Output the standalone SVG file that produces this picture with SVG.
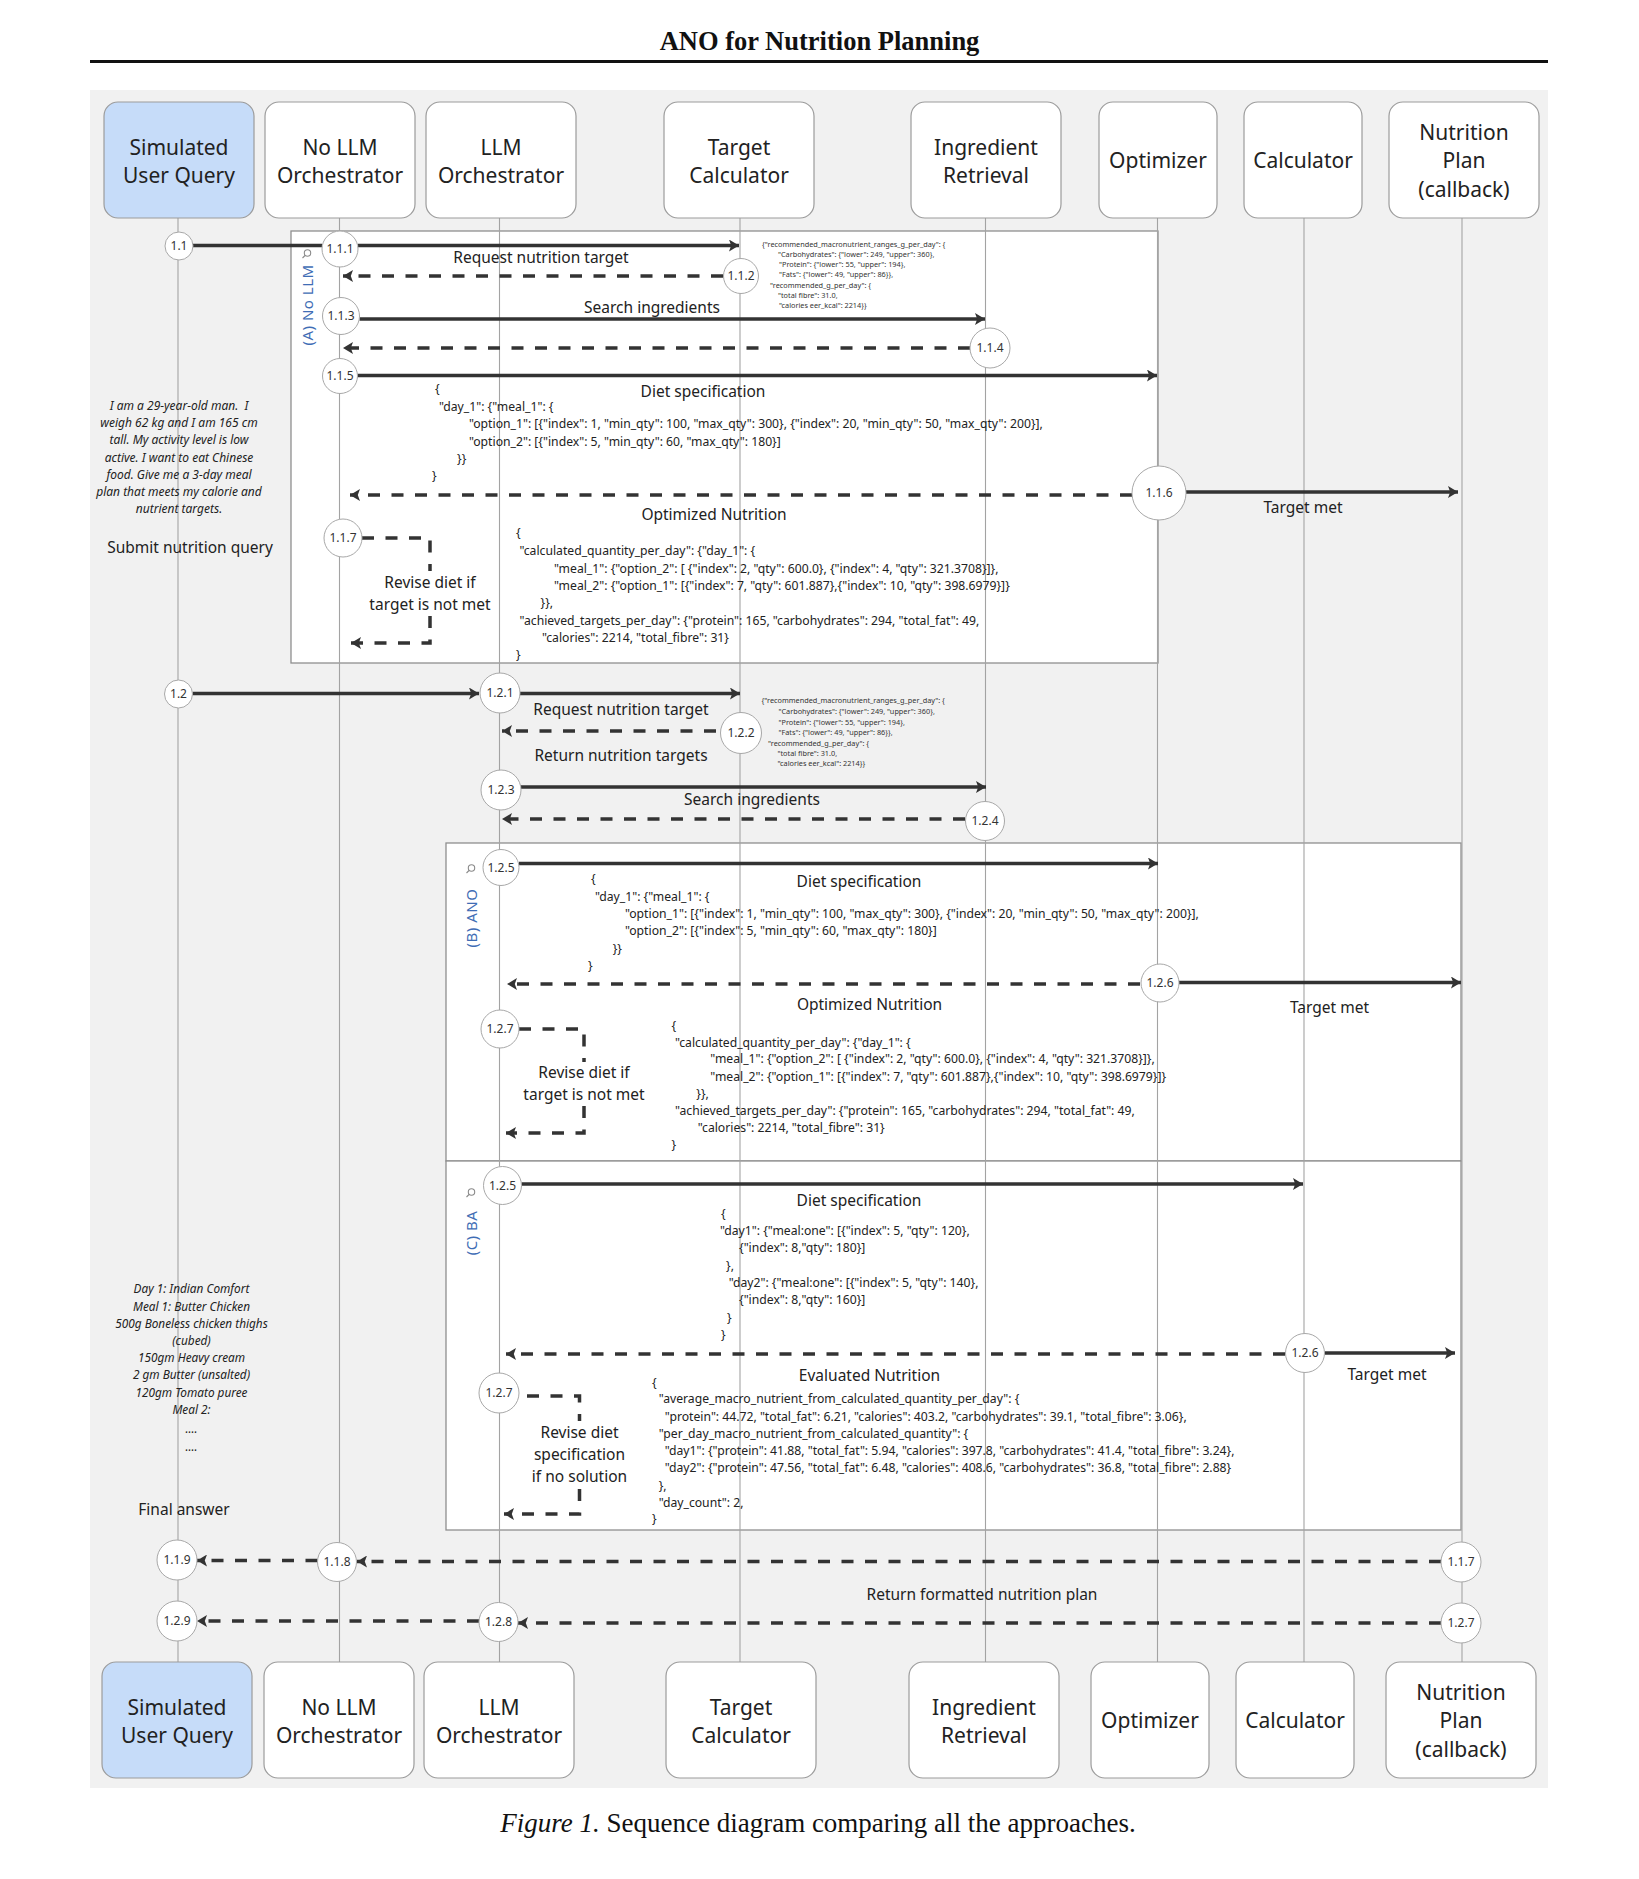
<svg xmlns="http://www.w3.org/2000/svg" width="1639" height="1879" viewBox="0 0 1639 1879">
<style>
.pb{fill:#fff;stroke:#9c9c9c;stroke-width:1.2}
.pu{fill:#c6dcf9}
.pt{font-family:"Noto Sans","Open Sans",sans-serif;font-size:21px;fill:#222;text-anchor:middle}
.life{stroke:#a3a3a3;stroke-width:1.1;fill:none}
.frame{fill:#fff;stroke:#8f8f8f;stroke-width:1.3}
.fl{font-family:"Noto Sans","Open Sans",sans-serif;font-size:15px;fill:#3f6db5;text-anchor:middle;letter-spacing:0.5px}
.ic{fill:none;stroke:#8a8a8a;stroke-width:1.1}
.m{stroke:#333;stroke-width:3.5;fill:none}
.d{stroke:#333;stroke-width:3.5;fill:none;stroke-dasharray:12 11.5}
.nc{fill:#fff;stroke:#a8a8a8;stroke-width:1}
.nt{font-family:"Noto Sans","Open Sans",sans-serif;font-size:12px;fill:#333;text-anchor:middle}
.lb{font-family:"Noto Sans","Open Sans",sans-serif;font-size:15.5px;fill:#222;text-anchor:middle}
.js{font-family:"Noto Sans","Open Sans",sans-serif;font-size:12.2px;fill:#222}
.tj{font-family:"Noto Sans","Open Sans",sans-serif;font-size:7.3px;fill:#333}
.it{font-family:"Noto Sans","Open Sans",sans-serif;font-size:12px;font-style:italic;fill:#222;text-anchor:middle}
.it2{font-family:"Noto Sans","Open Sans",sans-serif;font-size:11.8px;font-style:italic;fill:#222;text-anchor:middle}
.ser{font-family:"Liberation Serif","Times New Roman",serif;fill:#111;text-anchor:middle}
</style>
<defs>
<marker id="ah" viewBox="0 0 10 12" refX="10" refY="6" markerWidth="10" markerHeight="12" markerUnits="userSpaceOnUse" orient="auto">
<path d="M0,0 L10,6 L0,12 L2.2,6 z" fill="#333"/>
</marker>
</defs>

<text class="ser" x="819.5" y="50" font-size="26.5" font-weight="bold">ANO for Nutrition Planning</text>
<line x1="90" y1="61.5" x2="1548" y2="61.5" stroke="#111" stroke-width="3"/>

<rect x="90" y="90" width="1458" height="1698" fill="#f1f1f1"/>

<g id="frames">
<rect id="frame-a" class="frame" x="291" y="231" width="867" height="432"/>
<rect id="frame-b" class="frame" x="446" y="843" width="1015" height="318"/>
<rect id="frame-c" class="frame" x="446" y="1161" width="1015" height="369"/>
<text class="fl" transform="translate(313,305) rotate(-90)">(A) No LLM</text>
<text class="fl" transform="translate(477,918) rotate(-90)">(B) ANO</text>
<text class="fl" transform="translate(477,1233) rotate(-90)">(C) BA</text>
<g class="ic"><circle cx="307.5" cy="253" r="3.2"/><line x1="305" y1="255.5" x2="302.5" y2="258"/></g>
<g class="ic"><circle cx="471.5" cy="868" r="3.2"/><line x1="469" y1="870.5" x2="466.5" y2="873"/></g>
<g class="ic"><circle cx="471.5" cy="1192" r="3.2"/><line x1="469" y1="1194.5" x2="466.5" y2="1197"/></g>
</g>

<g id="participants">
<g id="p-user">
<line class="life" x1="178" y1="218" x2="178" y2="1662"/>
<rect class="pb pu" x="104" y="102" width="150" height="116" rx="14"/>
<text class="pt" x="179" y="154.5">Simulated</text><text class="pt" x="179" y="183">User Query</text>
<rect class="pb pu" x="102" y="1662" width="150" height="116" rx="14"/>
<text class="pt" x="177" y="1714.5">Simulated</text><text class="pt" x="177" y="1743">User Query</text>
</g>
<g id="p-nollm">
<line class="life" x1="339.5" y1="218" x2="339.5" y2="1662"/>
<rect class="pb" x="265" y="102" width="150" height="116" rx="14"/>
<text class="pt" x="340" y="154.5">No LLM</text><text class="pt" x="340" y="183">Orchestrator</text>
<rect class="pb" x="264" y="1662" width="150" height="116" rx="14"/>
<text class="pt" x="339" y="1714.5">No LLM</text><text class="pt" x="339" y="1743">Orchestrator</text>
</g>
<g id="p-llm">
<line class="life" x1="499.5" y1="218" x2="499.5" y2="1662"/>
<rect class="pb" x="426" y="102" width="150" height="116" rx="14"/>
<text class="pt" x="501" y="154.5">LLM</text><text class="pt" x="501" y="183">Orchestrator</text>
<rect class="pb" x="424" y="1662" width="150" height="116" rx="14"/>
<text class="pt" x="499" y="1714.5">LLM</text><text class="pt" x="499" y="1743">Orchestrator</text>
</g>
<g id="p-target">
<line class="life" x1="740" y1="218" x2="740" y2="1662"/>
<rect class="pb" x="664" y="102" width="150" height="116" rx="14"/>
<text class="pt" x="739" y="154.5">Target</text><text class="pt" x="739" y="183">Calculator</text>
<rect class="pb" x="666" y="1662" width="150" height="116" rx="14"/>
<text class="pt" x="741" y="1714.5">Target</text><text class="pt" x="741" y="1743">Calculator</text>
</g>
<g id="p-ingr">
<line class="life" x1="985.5" y1="218" x2="985.5" y2="1662"/>
<rect class="pb" x="911" y="102" width="150" height="116" rx="14"/>
<text class="pt" x="986" y="154.5">Ingredient</text><text class="pt" x="986" y="183">Retrieval</text>
<rect class="pb" x="909" y="1662" width="150" height="116" rx="14"/>
<text class="pt" x="984" y="1714.5">Ingredient</text><text class="pt" x="984" y="1743">Retrieval</text>
</g>
<g id="p-opt">
<line class="life" x1="1157.5" y1="218" x2="1157.5" y2="1662"/>
<rect class="pb" x="1099" y="102" width="118" height="116" rx="14"/>
<text class="pt" x="1158" y="168">Optimizer</text>
<rect class="pb" x="1091" y="1662" width="118" height="116" rx="14"/>
<text class="pt" x="1150" y="1728">Optimizer</text>
</g>
<g id="p-calc">
<line class="life" x1="1304" y1="218" x2="1304" y2="1662"/>
<rect class="pb" x="1244" y="102" width="118" height="116" rx="14"/>
<text class="pt" x="1303" y="168">Calculator</text>
<rect class="pb" x="1236" y="1662" width="118" height="116" rx="14"/>
<text class="pt" x="1295" y="1728">Calculator</text>
</g>
<g id="p-plan">
<line class="life" x1="1462" y1="218" x2="1462" y2="1662"/>
<rect class="pb" x="1389" y="102" width="150" height="116" rx="14"/>
<text class="pt" x="1464" y="139.5">Nutrition</text><text class="pt" x="1464" y="168">Plan</text><text class="pt" x="1464" y="196.5">(callback)</text>
<rect class="pb" x="1386" y="1662" width="150" height="116" rx="14"/>
<text class="pt" x="1461" y="1699.5">Nutrition</text><text class="pt" x="1461" y="1728">Plan</text><text class="pt" x="1461" y="1756.5">(callback)</text>
</g>
</g>

<g id="connectors">
<line class="m" x1="193" y1="245.5" x2="322" y2="245.5"/>
<line class="m" x1="358" y1="245.5" x2="739" y2="245.5" marker-end="url(#ah)"/>
<line class="d" x1="723" y1="276" x2="343" y2="276" marker-end="url(#ah)"/>
<line class="m" x1="359.5" y1="319" x2="985" y2="319" marker-end="url(#ah)"/>
<line class="d" x1="970" y1="348" x2="343" y2="348" marker-end="url(#ah)"/>
<line class="m" x1="357.5" y1="375.5" x2="1157" y2="375.5" marker-end="url(#ah)"/>
<line class="d" x1="1132" y1="495" x2="350" y2="495" marker-end="url(#ah)"/>
<line class="m" x1="1186" y1="492" x2="1458" y2="492" marker-end="url(#ah)"/>
<path class="d" d="M362,538 H430 V571 M430,616 V643 H351" marker-end="url(#ah)"/>

<line class="m" x1="192.5" y1="693.5" x2="479" y2="693.5" marker-end="url(#ah)"/>
<line class="m" x1="520" y1="693.5" x2="740" y2="693.5" marker-end="url(#ah)"/>
<line class="d" x1="716" y1="731" x2="502" y2="731" marker-end="url(#ah)"/>
<line class="m" x1="521" y1="787" x2="986" y2="787" marker-end="url(#ah)"/>
<line class="d" x1="965" y1="819" x2="502" y2="819" marker-end="url(#ah)"/>

<line class="m" x1="519" y1="863.5" x2="1158" y2="863.5" marker-end="url(#ah)"/>
<line class="d" x1="1140" y1="984" x2="507" y2="984" marker-end="url(#ah)"/>
<line class="m" x1="1179" y1="982.5" x2="1461" y2="982.5" marker-end="url(#ah)"/>
<path class="d" d="M519,1029 H584 V1062 M584,1106 V1133 H506" marker-end="url(#ah)"/>

<line class="m" x1="521.5" y1="1184" x2="1303" y2="1184" marker-end="url(#ah)"/>
<line class="d" x1="1285" y1="1354" x2="506" y2="1354" marker-end="url(#ah)"/>
<line class="m" x1="1325" y1="1353" x2="1455" y2="1353" marker-end="url(#ah)"/>
<path class="d" d="M527,1396 H579.5 V1421 M579.5,1489 V1514 H504" marker-end="url(#ah)"/>

<line class="d" x1="1441" y1="1561.5" x2="357" y2="1561.5" marker-end="url(#ah)"/>
<line class="d" x1="317.5" y1="1560.5" x2="197" y2="1560.5" marker-end="url(#ah)"/>
<line class="d" x1="1441" y1="1623" x2="518" y2="1623" marker-end="url(#ah)"/>
<line class="d" x1="479" y1="1621" x2="197" y2="1621" marker-end="url(#ah)"/>
</g>

<g id="steps">
<g id="s-1-1"><circle class="nc" cx="179" cy="246" r="14"/><text class="nt" x="179" y="250">1.1</text></g>
<g id="s-1-1-1"><circle class="nc" cx="340" cy="249" r="18"/><text class="nt" x="340" y="253">1.1.1</text></g>
<g id="s-1-1-2"><circle class="nc" cx="741" cy="276" r="17.5"/><text class="nt" x="741" y="280">1.1.2</text></g>
<g id="s-1-1-3"><circle class="nc" cx="341" cy="316" r="18.5"/><text class="nt" x="341" y="320">1.1.3</text></g>
<g id="s-1-1-4"><circle class="nc" cx="990" cy="348" r="20"/><text class="nt" x="990" y="352">1.1.4</text></g>
<g id="s-1-1-5"><circle class="nc" cx="340" cy="376" r="17.5"/><text class="nt" x="340" y="380">1.1.5</text></g>
<g id="s-1-1-6"><circle class="nc" cx="1159" cy="493" r="27"/><text class="nt" x="1159" y="497">1.1.6</text></g>
<g id="s-1-1-7"><circle class="nc" cx="343" cy="538" r="19"/><text class="nt" x="343" y="542">1.1.7</text></g>
<g id="s-1-2"><circle class="nc" cx="178.5" cy="694" r="14"/><text class="nt" x="178.5" y="698">1.2</text></g>
<g id="s-1-2-1"><circle class="nc" cx="500" cy="693" r="20"/><text class="nt" x="500" y="697">1.2.1</text></g>
<g id="s-1-2-2"><circle class="nc" cx="741" cy="733" r="20.5"/><text class="nt" x="741" y="737">1.2.2</text></g>
<g id="s-1-2-3"><circle class="nc" cx="501" cy="790" r="20"/><text class="nt" x="501" y="794">1.2.3</text></g>
<g id="s-1-2-4"><circle class="nc" cx="985" cy="821" r="19.5"/><text class="nt" x="985" y="825">1.2.4</text></g>
<g id="s-b-1-2-5"><circle class="nc" cx="501" cy="867.5" r="18"/><text class="nt" x="501" y="871.5">1.2.5</text></g>
<g id="s-b-1-2-6"><circle class="nc" cx="1160" cy="983" r="19"/><text class="nt" x="1160" y="987">1.2.6</text></g>
<g id="s-b-1-2-7"><circle class="nc" cx="500" cy="1029" r="19"/><text class="nt" x="500" y="1033">1.2.7</text></g>
<g id="s-c-1-2-5"><circle class="nc" cx="502.5" cy="1185.5" r="19"/><text class="nt" x="502.5" y="1189.5">1.2.5</text></g>
<g id="s-c-1-2-6"><circle class="nc" cx="1305" cy="1353" r="19.5"/><text class="nt" x="1305" y="1357">1.2.6</text></g>
<g id="s-c-1-2-7"><circle class="nc" cx="499" cy="1393" r="20"/><text class="nt" x="499" y="1397">1.2.7</text></g>
<g id="s-r-1-1-7"><circle class="nc" cx="1461" cy="1562" r="20"/><text class="nt" x="1461" y="1566">1.1.7</text></g>
<g id="s-r-1-2-7"><circle class="nc" cx="1461" cy="1623" r="20"/><text class="nt" x="1461" y="1627">1.2.7</text></g>
<g id="s-1-1-8"><circle class="nc" cx="337" cy="1562" r="19.5"/><text class="nt" x="337" y="1566">1.1.8</text></g>
<g id="s-1-1-9"><circle class="nc" cx="177" cy="1560" r="20"/><text class="nt" x="177" y="1564">1.1.9</text></g>
<g id="s-1-2-8"><circle class="nc" cx="498.5" cy="1622" r="19.5"/><text class="nt" x="498.5" y="1626">1.2.8</text></g>
<g id="s-1-2-9"><circle class="nc" cx="177" cy="1621" r="20"/><text class="nt" x="177" y="1625">1.2.9</text></g>
</g>

<g id="labels">
<text class="lb" x="541" y="263">Request nutrition target</text>
<text class="lb" x="652" y="313">Search ingredients</text>
<text class="lb" x="703" y="397">Diet specification</text>
<text class="lb" x="714" y="520">Optimized Nutrition</text>
<text class="lb" x="1303" y="513">Target met</text>
<text class="lb" x="430" y="588">Revise diet if</text>
<text class="lb" x="430" y="610">target is not met</text>
<text class="lb" x="190" y="553">Submit nutrition query</text>
<text class="lb" x="621" y="715">Request nutrition target</text>
<text class="lb" x="621" y="760.5">Return nutrition targets</text>
<text class="lb" x="752" y="805">Search ingredients</text>
<text class="lb" x="859" y="886.5">Diet specification</text>
<text class="lb" x="869.5" y="1010">Optimized Nutrition</text>
<text class="lb" x="1329.5" y="1013">Target met</text>
<text class="lb" x="584" y="1078">Revise diet if</text>
<text class="lb" x="584" y="1100">target is not met</text>
<text class="lb" x="859" y="1205.5">Diet specification</text>
<text class="lb" x="869.5" y="1380.5">Evaluated Nutrition</text>
<text class="lb" x="1387" y="1380">Target met</text>
<text class="lb" x="579.5" y="1438">Revise diet</text>
<text class="lb" x="579.5" y="1460">specification</text>
<text class="lb" x="579.5" y="1481.5">if no solution</text>
<text class="lb" x="184" y="1515">Final answer</text>
<text class="lb" x="982" y="1600">Return formatted nutrition plan</text>
</g>

<g id="user-query">
<text class="it" x="179" y="410">I am a 29-year-old man.&#160; I</text>
<text class="it" x="179" y="427">weigh 62 kg and I am 165 cm</text>
<text class="it" x="179" y="444">tall. My activity level is low</text>
<text class="it" x="179" y="461.5">active. I want to eat Chinese</text>
<text class="it" x="179" y="479">food. Give me a 3-day meal</text>
<text class="it" x="179" y="496">plan that meets my calorie and</text>
<text class="it" x="179" y="513">nutrient targets.</text>
</g>

<g id="final-answer-text">
<text class="it2" x="191.5" y="1293">Day 1: Indian Comfort</text>
<text class="it2" x="191.5" y="1310.5">Meal 1: Butter Chicken</text>
<text class="it2" x="191.5" y="1327.5">500g Boneless chicken thighs</text>
<text class="it2" x="191.5" y="1345">(cubed)</text>
<text class="it2" x="191.5" y="1361.5">150gm Heavy cream</text>
<text class="it2" x="191.5" y="1379">2 gm Butter (unsalted)</text>
<text class="it2" x="191.5" y="1396.5">120gm Tomato puree</text>
<text class="it2" x="191.5" y="1414">Meal 2:</text>
<text class="it2" x="191.5" y="1433" font-size="8">....</text>
<text class="it2" x="191.5" y="1450.5" font-size="8">....</text>
</g>

<g id="json-targets-a" class="tj">
<text x="762" y="246.5">{"recommended_macronutrient_ranges_g_per_day": {</text>
<text x="778" y="256.7">"Carbohydrates": {"lower": 249, "upper": 360},</text>
<text x="779" y="267">"Protein": {"lower": 55, "upper": 194},</text>
<text x="779" y="277.3">"Fats": {"lower": 49, "upper": 86}},</text>
<text x="770" y="287.7">"recommended_g_per_day": {</text>
<text x="778" y="297.7">"total fibre": 31.0,</text>
<text x="779" y="307.7">"calories eer_kcal": 2214}}</text>
</g>
<g id="json-targets-b" class="tj">
<text x="761.5" y="703.3">{"recommended_macronutrient_ranges_g_per_day": {</text>
<text x="778.5" y="714.3">"Carbohydrates": {"lower": 249, "upper": 360},</text>
<text x="778.5" y="724.5">"Protein": {"lower": 55, "upper": 194},</text>
<text x="778.5" y="735">"Fats": {"lower": 49, "upper": 86}},</text>
<text x="768" y="745.7">"recommended_g_per_day": {</text>
<text x="777.5" y="755.7">"total fibre": 31.0,</text>
<text x="777.5" y="765.7">"calories eer_kcal": 2214}}</text>
</g>

<g id="json-diet-a" class="js">
<text x="435" y="393">{</text>
<text x="439" y="411">"day_1": {"meal_1": {</text>
<text x="469" y="428">"option_1": [{"index": 1, "min_qty": 100, "max_qty": 300}, {"index": 20, "min_qty": 50, "max_qty": 200}],</text>
<text x="469" y="445.5">"option_2": [{"index": 5, "min_qty": 60, "max_qty": 180}]</text>
<text x="457" y="462.5">}}</text>
<text x="432" y="480">}</text>
</g>
<g id="json-opt-a" class="js">
<text x="516" y="537">{</text>
<text x="519.5" y="555">"calculated_quantity_per_day": {"day_1": {</text>
<text x="554" y="572.5">"meal_1": {"option_2": [ {"index": 2, "qty": 600.0}, {"index": 4, "qty": 321.3708}]},</text>
<text x="554" y="590">"meal_2": {"option_1": [{"index": 7, "qty": 601.887},{"index": 10, "qty": 398.6979}]}</text>
<text x="540.5" y="607">}},</text>
<text x="519.5" y="624.5">"achieved_targets_per_day": {"protein": 165, "carbohydrates": 294, "total_fat": 49,</text>
<text x="542" y="642">"calories": 2214, "total_fibre": 31}</text>
<text x="516" y="659">}</text>
</g>

<g id="json-diet-b" class="js">
<text x="591" y="883">{</text>
<text x="595" y="900.5">"day_1": {"meal_1": {</text>
<text x="625" y="917.7">"option_1": [{"index": 1, "min_qty": 100, "max_qty": 300}, {"index": 20, "min_qty": 50, "max_qty": 200}],</text>
<text x="625" y="935">"option_2": [{"index": 5, "min_qty": 60, "max_qty": 180}]</text>
<text x="612.7" y="952.5">}}</text>
<text x="588" y="970">}</text>
</g>
<g id="json-opt-b" class="js">
<text x="671.5" y="1030">{</text>
<text x="675" y="1046.7">"calculated_quantity_per_day": {"day_1": {</text>
<text x="710.3" y="1063.3">"meal_1": {"option_2": [ {"index": 2, "qty": 600.0}, {"index": 4, "qty": 321.3708}]},</text>
<text x="710.3" y="1080.7">"meal_2": {"option_1": [{"index": 7, "qty": 601.887},{"index": 10, "qty": 398.6979}]}</text>
<text x="696.3" y="1098.3">}},</text>
<text x="675" y="1115">"achieved_targets_per_day": {"protein": 165, "carbohydrates": 294, "total_fat": 49,</text>
<text x="697.8" y="1131.7">"calories": 2214, "total_fibre": 31}</text>
<text x="671.5" y="1149.3">}</text>
</g>

<g id="json-diet-c" class="js">
<text x="721" y="1218.3">{</text>
<text x="720" y="1235">"day1": {"meal:one": [{"index": 5, "qty": 120},</text>
<text x="739" y="1252.3">{"index": 8,"qty": 180}]</text>
<text x="726" y="1270">},</text>
<text x="728.7" y="1286.7">"day2": {"meal:one": [{"index": 5, "qty": 140},</text>
<text x="739" y="1304">{"index": 8,"qty": 160}]</text>
<text x="727" y="1321.7">}</text>
<text x="721" y="1339">}</text>
</g>
<g id="json-eval-c" class="js">
<text x="652" y="1386.7">{</text>
<text x="658.7" y="1403.3">"average_macro_nutrient_from_calculated_quantity_per_day": {</text>
<text x="664.8" y="1420.7">"protein": 44.72, "total_fat": 6.21, "calories": 403.2, "carbohydrates": 39.1, "total_fibre": 3.06},</text>
<text x="658.7" y="1438.3">"per_day_macro_nutrient_from_calculated_quantity": {</text>
<text x="664.8" y="1455">"day1": {"protein": 41.88, "total_fat": 5.94, "calories": 397.8, "carbohydrates": 41.4, "total_fibre": 3.24},</text>
<text x="664.8" y="1472.3">"day2": {"protein": 47.56, "total_fat": 6.48, "calories": 408.6, "carbohydrates": 36.8, "total_fibre": 2.88}</text>
<text x="658.7" y="1490">},</text>
<text x="658.7" y="1506.7">"day_count": 2,</text>
<text x="652" y="1523.3">}</text>
</g>

<text class="ser" x="818" y="1832" font-size="27"><tspan font-style="italic">Figure 1.</tspan> Sequence diagram comparing all the approaches.</text>
</svg>
